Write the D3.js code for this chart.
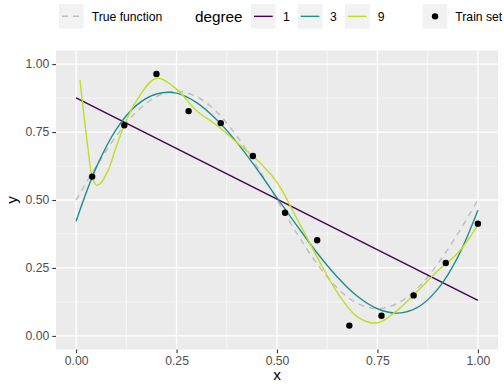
<!DOCTYPE html>
<html><head><meta charset="utf-8">
<script src="https://cdn.jsdelivr.net/npm/d3@7"></script>
<style>body{margin:0;background:#fff}svg{display:block;font-family:"Liberation Sans",Arial,sans-serif}</style>
</head><body><svg id="c" width="504" height="384"></svg>
<script>
// Training points
const xTrain = [0.04,0.12,0.20,0.28,0.36,0.44,0.52,0.60,0.68,0.76,0.84,0.92,1.00];
const yTrain = [0.586,0.775,0.964,0.827,0.783,0.662,0.453,0.352,0.038,0.074,0.149,0.268,0.413];
// True function
const xTrue = [0,0.05,0.1,0.15,0.2,0.25,0.3,0.35,0.4,0.45,0.5,0.55,0.6,0.65,0.7,0.75,0.8,0.85,0.9,0.95,1];
const yTrue = [0.5,0.624,0.735,0.824,0.880,0.9,0.880,0.824,0.735,0.624,0.5,0.376,0.265,0.176,0.120,0.1,0.120,0.176,0.265,0.376,0.5];
// Degree 1 fit
const xDeg1 = [0,1];
const yDeg1 = [0.876,0.131];
// Degree 3 fit
const xDeg3 = [0,0.05,0.1,0.15,0.2,0.25,0.3,0.35,0.4,0.45,0.5,0.55,0.6,0.65,0.7,0.75,0.8,0.85,0.9,0.95,1];
const yDeg3 = [0.422,0.619,0.760,0.848,0.890,0.893,0.858,0.795,0.712,0.614,0.508,0.405,0.305,0.217,0.146,0.100,0.084,0.105,0.172,0.290,0.462];
// Degree 9 fit
const xDeg9 = [0.0097,0.02,0.03,0.04,0.05,0.06,0.08,0.10,0.12,0.15,0.2,0.25,0.3,0.35,0.4,0.45,0.5,0.55,0.6,0.65,0.7,0.75,0.8,0.85,0.9,0.95,1];
const yDeg9 = [0.941,0.806,0.684,0.586,0.555,0.560,0.610,0.696,0.775,0.865,0.948,0.908,0.828,0.775,0.712,0.648,0.565,0.430,0.290,0.160,0.070,0.048,0.095,0.165,0.240,0.305,0.408];
const degrees = ["1","3","9"];
const degColors = ["#440154","#21908C","#BBDF27"];
const xTicks = [0,0.25,0.5,0.75,1];
const yTicks = [0,0.25,0.5,0.75,1];
const xMinor = [0.125,0.375,0.625,0.875];
const yMinor = [0.125,0.375,0.625,0.875];

const svg = d3.select("#c");
const P = {l:56, r:498, t:50.5, b:349.5};
const x = d3.scaleLinear().domain([-0.05,1.05]).range([P.l,P.r]);
const y = d3.scaleLinear().domain([-0.05,1.05]).range([P.b,P.t]);

svg.append("rect").attr("x",P.l).attr("y",P.t).attr("width",P.r-P.l).attr("height",P.b-P.t).attr("fill","#EBEBEB");
const g = svg.append("g");
g.selectAll(".vmin").data(xMinor).join("line").attr("x1",d=>x(d)).attr("x2",d=>x(d)).attr("y1",P.t).attr("y2",P.b).attr("stroke","#fff").attr("stroke-width",0.6);
g.selectAll(".hmin").data(yMinor).join("line").attr("y1",d=>y(d)).attr("y2",d=>y(d)).attr("x1",P.l).attr("x2",P.r).attr("stroke","#fff").attr("stroke-width",0.6);
g.selectAll(".vmaj").data(xTicks).join("line").attr("x1",d=>x(d)).attr("x2",d=>x(d)).attr("y1",P.t).attr("y2",P.b).attr("stroke","#fff").attr("stroke-width",1.3);
g.selectAll(".hmaj").data(yTicks).join("line").attr("y1",d=>y(d)).attr("y2",d=>y(d)).attr("x1",P.l).attr("x2",P.r).attr("stroke","#fff").attr("stroke-width",1.3);

const clip = svg.append("clipPath").attr("id","pc").append("rect").attr("x",P.l).attr("y",P.t).attr("width",P.r-P.l).attr("height",P.b-P.t);
const plot = svg.append("g").attr("clip-path","url(#pc)");
const line = d3.line().x(d=>x(d[0])).y(d=>y(d[1])).curve(d3.curveCatmullRom.alpha(0.5));
const zip = (a,b)=>a.map((v,i)=>[v,b[i]]);

plot.append("path").attr("d",line(zip(xTrue,yTrue))).attr("fill","none").attr("stroke","#BEBEBE").attr("stroke-width",1.5).attr("stroke-dasharray","6,5");
const fits = [[xDeg1,yDeg1],[xDeg3,yDeg3],[xDeg9,yDeg9]];
fits.forEach((f,i)=>{
  plot.append("path").attr("d",line(zip(f[0],f[1]))).attr("fill","none").attr("stroke",degColors[i]).attr("stroke-width",1.4);
});
plot.selectAll("circle").data(zip(xTrain,yTrain)).join("circle").attr("cx",d=>x(d[0])).attr("cy",d=>y(d[1])).attr("r",3.2).attr("fill","#000");

// axes
const xa = svg.append("g").attr("transform",`translate(0,${P.b})`).call(d3.axisBottom(x).tickValues(xTicks).tickFormat(d3.format(".2f")).tickSize(3.7).tickPadding(3));
const ya = svg.append("g").attr("transform",`translate(${P.l},0)`).call(d3.axisLeft(y).tickValues(yTicks).tickFormat(d3.format(".2f")).tickSize(3.7).tickPadding(3));
[xa,ya].forEach(a=>{
  a.select(".domain").remove();
  a.selectAll(".tick line").attr("stroke","#333").attr("stroke-width",1.1);
  a.selectAll(".tick text").attr("fill","#4D4D4D").attr("font-size",12.2).attr("font-family","Liberation Sans, Arial, sans-serif");
});
svg.append("text").attr("x",(P.l+P.r)/2).attr("y",384).attr("dy","-0.25em").attr("text-anchor","middle").attr("font-size",15.3).text("x");
svg.append("text").attr("transform",`translate(17,${(P.t+P.b)/2}) rotate(-90)`).attr("text-anchor","middle").attr("font-size",15.3).text("y");

// legend
const L = svg.append("g");
const ky = 4, ks = 24.7, cy = ky+ks/2;
function keyBox(x0){ L.append("rect").attr("x",x0).attr("y",ky).attr("width",ks).attr("height",ks).attr("fill","#F2F2F2"); }
function label(x0,t,size){ L.append("text").attr("x",x0).attr("y",cy).attr("dy","0.35em").attr("font-size",size||12.2).text(t); }
keyBox(59);
L.append("line").attr("x1",62).attr("x2",82.7).attr("y1",cy).attr("y2",cy).attr("stroke","#BEBEBE").attr("stroke-width",1.5).attr("stroke-dasharray","6,5");
label(91.7,"True function");
label(195,"degree",15.3);
const keyX = [251,297.7,345];
const labX = [283,330,377.7];
degrees.forEach((d,i)=>{
  keyBox(keyX[i]);
  L.append("line").attr("x1",keyX[i]+3).attr("x2",keyX[i]+ks-3).attr("y1",cy).attr("y2",cy).attr("stroke",degColors[i]).attr("stroke-width",1.4);
  label(labX[i],d);
});
keyBox(422.7);
L.append("circle").attr("cx",422.7+ks/2).attr("cy",cy).attr("r",3.2).attr("fill","#000");
label(455.3,"Train set");
</script></body></html>
